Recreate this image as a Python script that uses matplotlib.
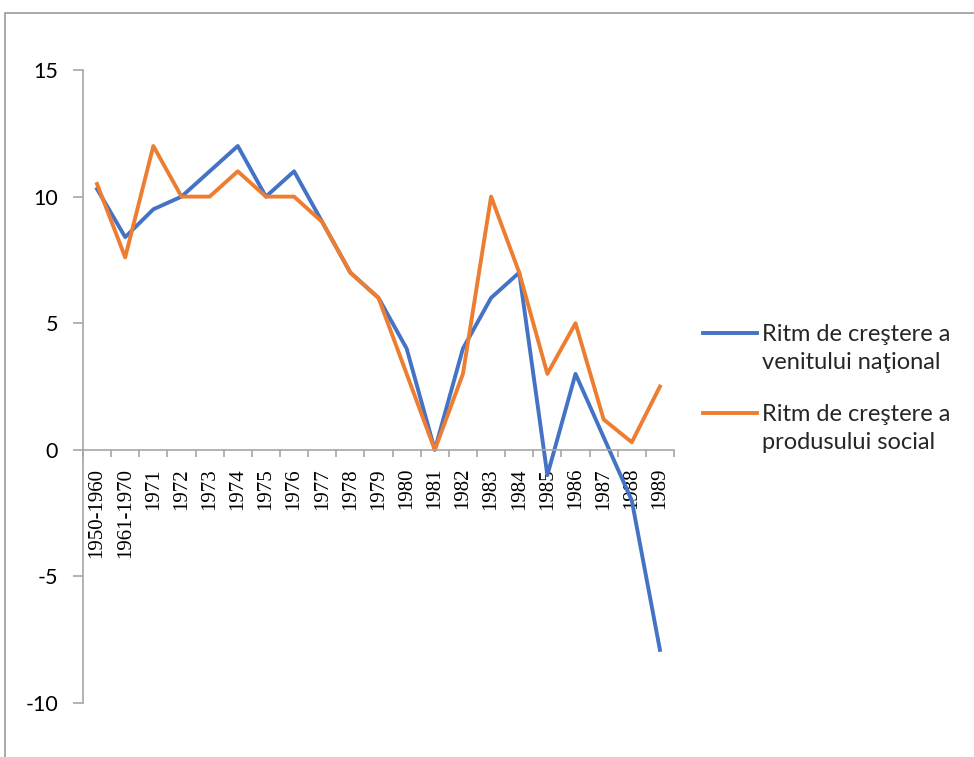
import matplotlib.pyplot as plt
from matplotlib.patches import Rectangle
from matplotlib.lines import Line2D

plt.rcParams['axes.unicode_minus'] = False

categories = ['1950-1960', '1961-1970', '1971', '1972', '1973', '1974', '1975',
              '1976', '1977', '1978', '1979', '1980', '1981', '1982', '1983',
              '1984', '1985', '1986', '1987', '1988', '1989']
venit_national = [10.3, 8.4, 9.5, 10, 11, 12, 10, 11, 9, 7, 6, 4, 0, 4, 6,
                  7, -1.0, 3, 0.5, -2, -7.9]
produs_social = [10.5, 7.6, 12, 10, 10, 11, 10, 10, 9, 7, 6, 3, 0, 3, 10,
                 7, 3, 5, 1.2, 0.3, 2.5]
label_venit = ['Ritm de creştere a', 'venitului naţional']
label_produs = ['Ritm de creştere a', 'produsului social']
col_venit = '#4472C4'
col_produs = '#ED7D31'

fig = plt.figure(figsize=(9.74, 7.57), dpi=100)
ax = fig.add_axes([0.0852, 0.0713, 0.6068, 0.8362])

x = list(range(len(categories)))
ax.plot(x, venit_national, color=col_venit, lw=2.8)
ax.plot(x, produs_social, color=col_produs, lw=2.8)

ax.set_xlim(-0.5, len(categories) - 0.5)
ax.set_ylim(-10, 15)
ax.set_yticks([-10, -5, 0, 5, 10, 15])

# category axis crosses at zero, ticks between categories
ax.spines['bottom'].set_position(('data', 0))
ax.spines['top'].set_visible(False)
ax.spines['right'].set_visible(False)
for s in ['bottom', 'left']:
    ax.spines[s].set_color('#A6A6A6')
    ax.spines[s].set_linewidth(1.2)

ax.set_xticks([i - 0.5 for i in range(len(categories) + 1)])
ax.set_xticklabels([])
ax.set_xticks(x, minor=True)
ax.set_xticklabels(categories, minor=True, rotation=90, fontsize=15,
                   family='Liberation Serif', va='top')
ax.tick_params(axis='x', which='major', length=5, color='#A6A6A6', width=1.2)
ax.tick_params(axis='x', which='minor', length=0, pad=13)
ax.tick_params(axis='y', length=7, color='#A6A6A6', width=1.2, pad=11,
               labelsize=15.5)
for t in ax.get_yticklabels():
    t.set_family('Lato')

# legend drawn by hand so the key sits on the first text line, as in Excel
for (lines, col), y0, yt in zip([(label_venit, col_venit), (label_produs, col_produs)],
                                [0.5601, 0.4544], [0.5495, 0.4439]):
    fig.add_artist(Line2D([0.7218, 0.7772], [y0, y0], transform=fig.transFigure,
                          color=col, lw=2.8))
    for k, line in enumerate(lines):
        fig.text(0.7823, yt - k * 0.037, line, family='Lato', fontsize=17,
                 va='baseline', ha='left', color='#262626')

fig.add_artist(Rectangle((0.005, -0.1), 1.1, 0.983 + 0.1,
                         transform=fig.transFigure, fill=False,
                         edgecolor='#9A9A9A', lw=1.2))

fig.savefig('out.png', dpi=100)
